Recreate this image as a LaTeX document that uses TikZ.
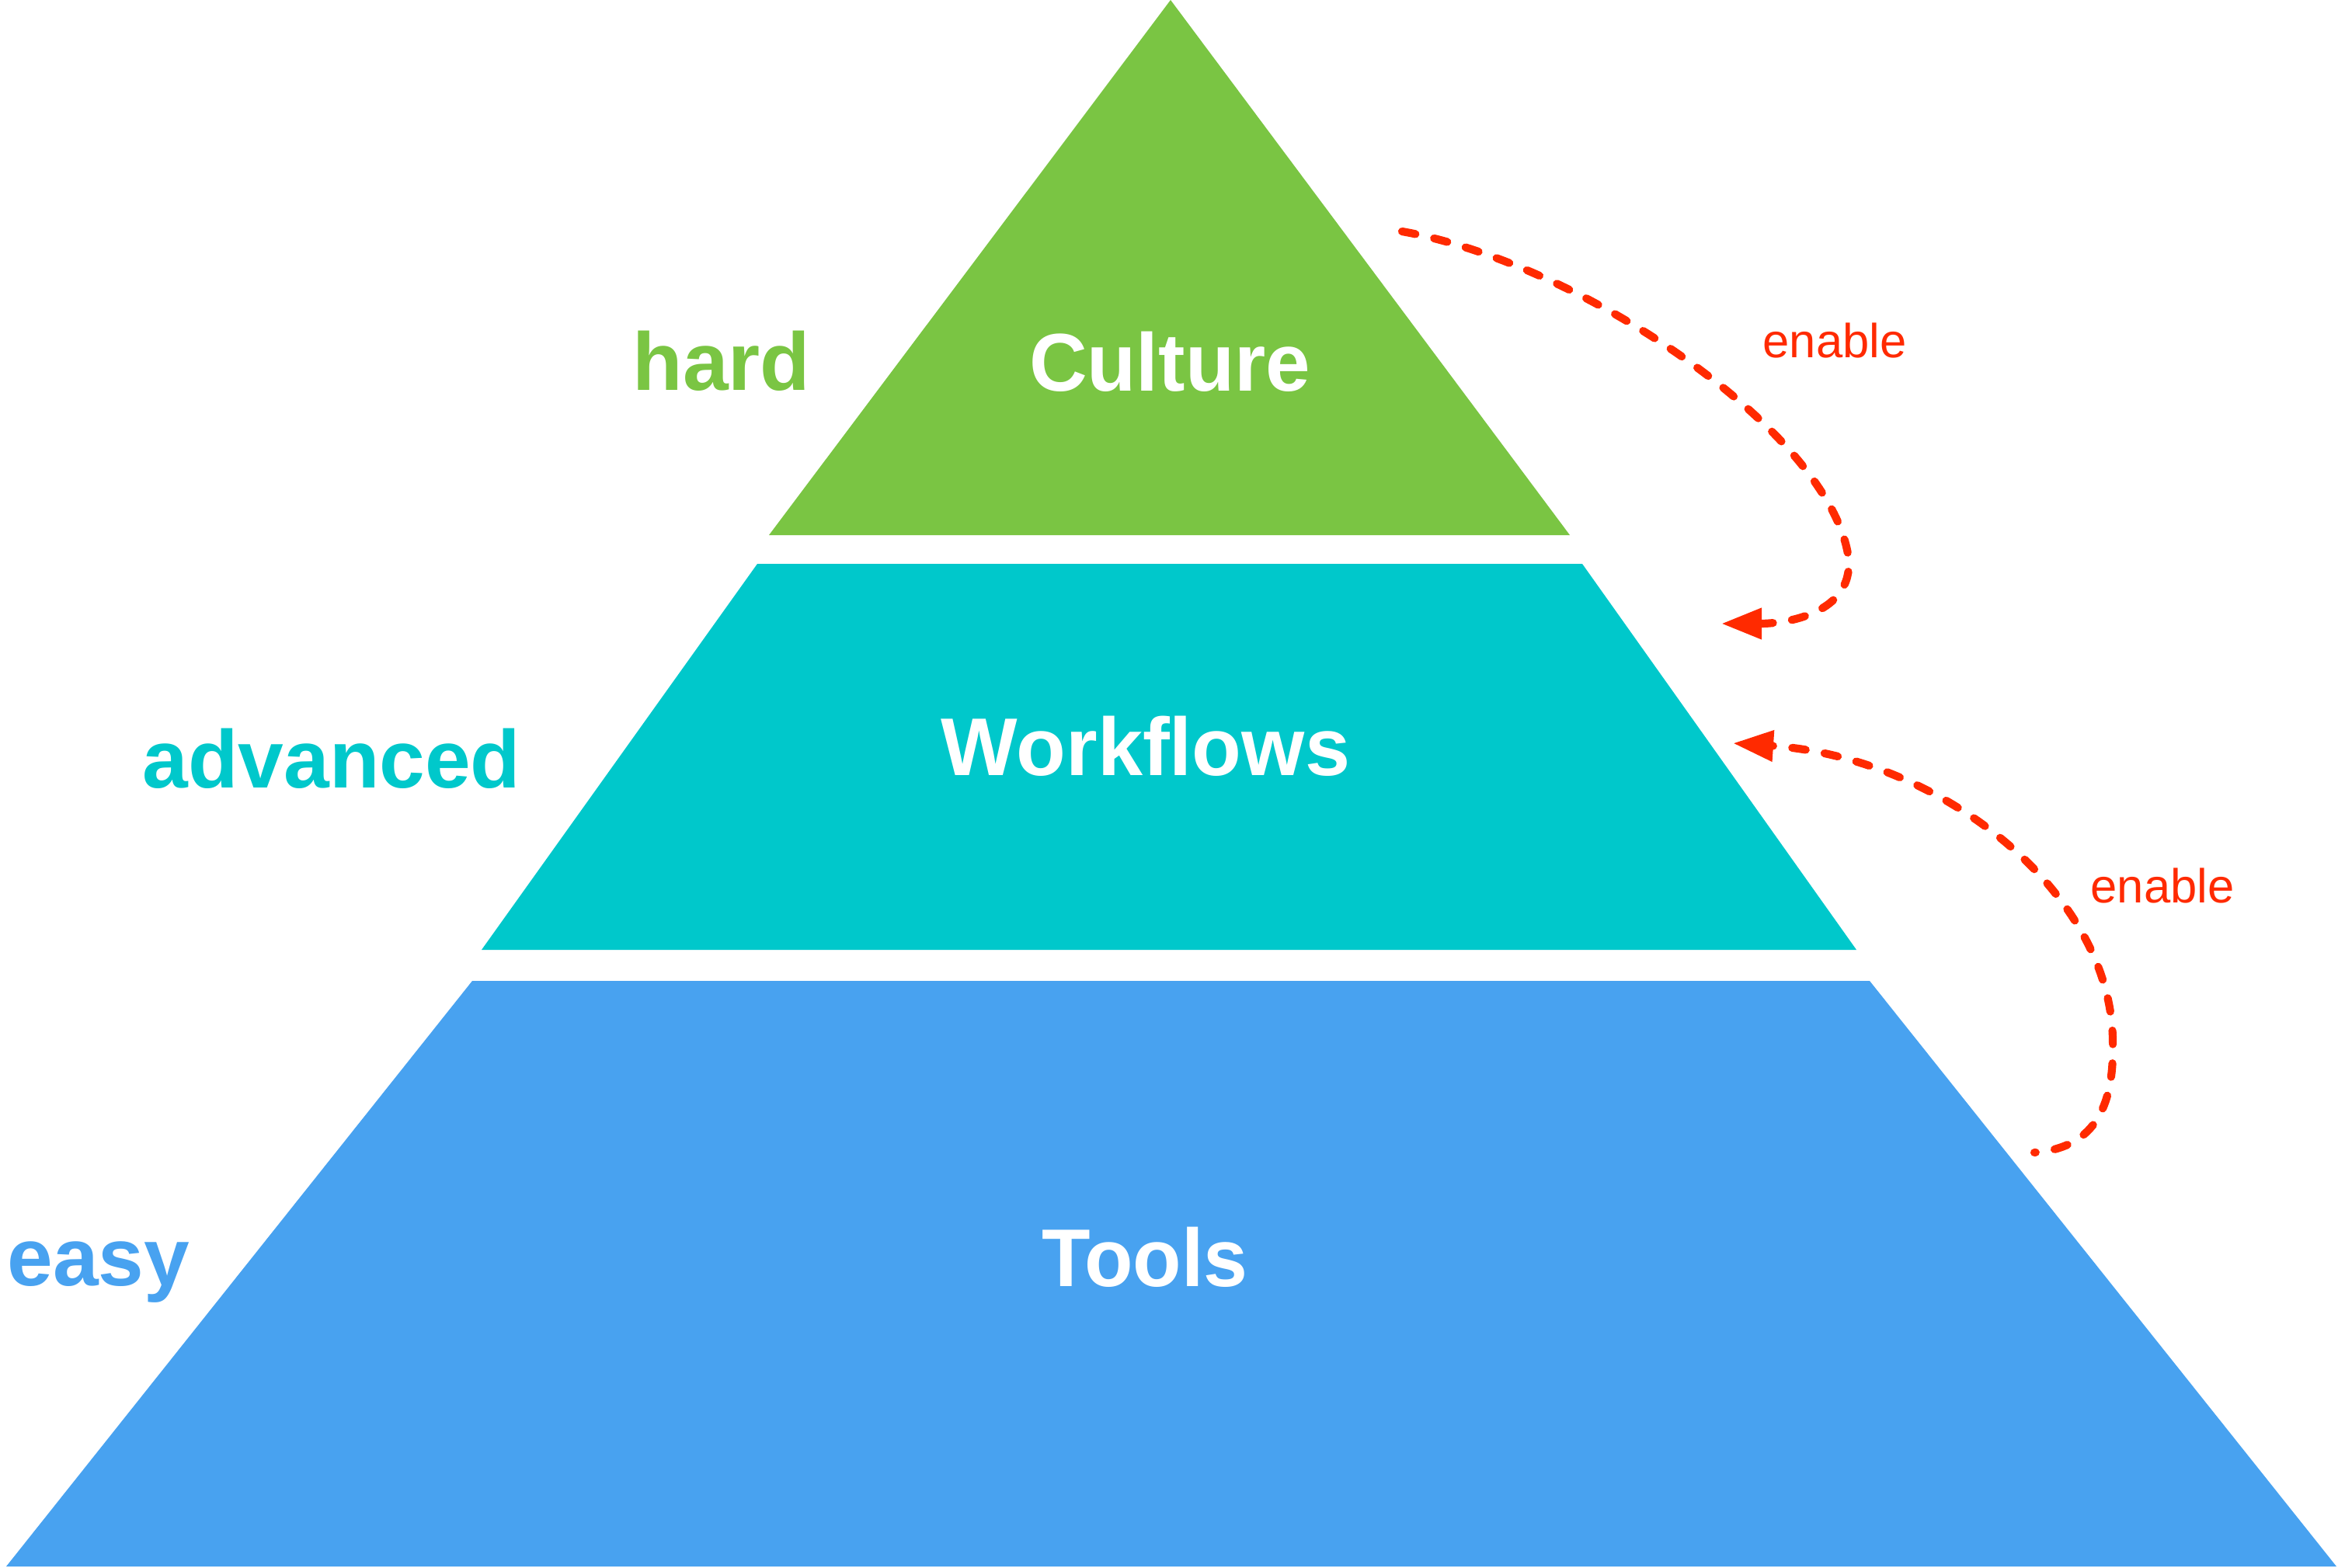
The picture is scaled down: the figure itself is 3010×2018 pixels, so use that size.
\documentclass[tikz,border=0pt]{standalone}
\usepackage{fontspec}
\usepackage{graphicx}
\setmainfont{Liberation Sans}
\usetikzlibrary{arrows.meta}

\definecolor{layergreen}{HTML}{7AC543}
\definecolor{layerteal}{HTML}{00C8CB}
\definecolor{layerblue}{HTML}{48A2F0}
\definecolor{enablered}{HTML}{FF2A00}

\tikzset{
  layer/.style={fill=#1, draw=none},
  tier/.style={text=white, font=\bfseries\fontsize{30pt}{36pt}\selectfont, inner sep=0pt, anchor=base},
  level/.style={text=#1, font=\bfseries\fontsize{30pt}{36pt}\selectfont, inner sep=0pt, anchor=base},
  enabletext/.style={text=enablered, font=\fontsize{17.5pt}{21pt}\selectfont, inner sep=0pt, anchor=base},
  enablearrow/.style={draw=enablered, line width=2.9pt, line cap=round,
    dash pattern=on 5pt off 7pt,
    -{Triangle[length=5.2mm, width=3.8mm]}},
}

\begin{document}
\begin{tikzpicture}[x=0.01cm, y=-0.01cm]
  \useasboundingbox (0,0) rectangle (3010,2018);

  % pyramid layers
  \path[layer=layergreen] (1507,0) -- (2021,689) -- (990,689) -- cycle;
  \path[layer=layerteal] (975,726) -- (2037,726) -- (2390,1223) -- (620,1223) -- cycle;
  \path[layer=layerblue] (608,1263) -- (2407,1263) -- (3008,2017) -- (8,2017) -- cycle;

  % layer names
  \node[tier] (culture) at (1506,503) {\scalebox{0.98}[1]{Culture}};
  \node[tier] (workflows) at (1475,998) {\scalebox{0.99}[1]{Workflows}};
  \node[tier] (tools) at (1474,1656) {\scalebox{0.97}[1]{Tools}};

  % difficulty labels
  \node[level=layergreen] (hard) at (929,502) {hard};
  \node[level=layerteal] (advanced) at (427,1014) {advanced};
  \node[level=layerblue] (easy) at (127,1655) {easy};

  % enable arrows
  \coordinate (upstart) at (1805,298);
  \coordinate (upturn) at (2380,720);
  \coordinate (uptip) at (2216,803);
  \draw[enablearrow] (upstart) .. controls (2040,340) and (2360,560) .. (upturn)
    .. controls (2385,790) and (2300,803) .. (uptip);
  \node[enabletext] (enableup) at (2362,460) {enable};

  \coordinate (lowstart) at (2619,1484);
  \coordinate (lowturn) at (2720,1340);
  \coordinate (lowtip) at (2231,957);
  \draw[enablearrow, dash phase=4.5pt] (lowstart) .. controls (2700,1478) and (2722,1420) .. (lowturn)
    .. controls (2718,1150) and (2500,975) .. (lowtip);
  \node[enabletext] (enablelow) at (2784,1162) {enable};
\end{tikzpicture}
\end{document}
